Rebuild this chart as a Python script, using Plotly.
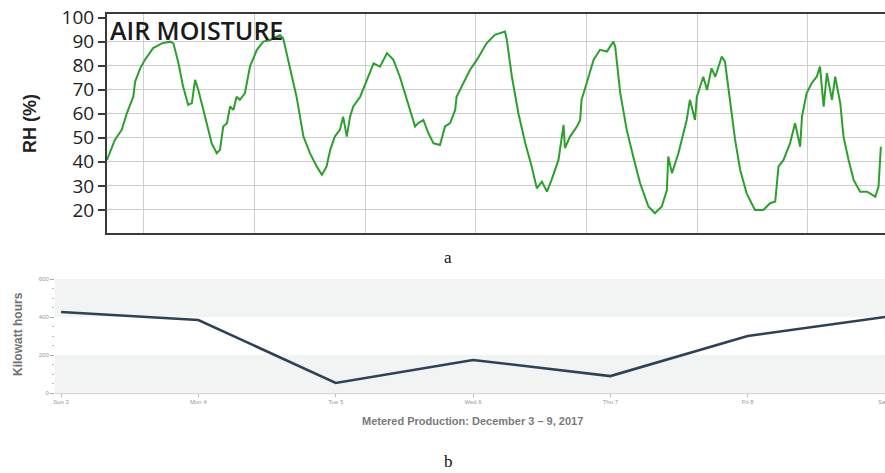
import plotly.graph_objects as go

# ---- Panel a: air moisture (RH %) ----
rh_hours = [0.0, 1.7, 3.2, 4.3, 5.7, 6.1, 7.2, 8.2, 10.0, 11.9, 13.7, 14.4, 15.5, 16.5, 17.6, 18.4,
            19.1, 19.8, 20.9, 22.0, 22.7, 23.8, 24.5, 25.2, 26.0, 26.7, 27.4, 28.1, 28.8, 29.9, 31.0,
            32.5, 33.9, 35.4, 37.5, 38.2, 40.1, 41.1, 42.6, 44.0, 45.5, 46.6, 47.6, 48.4, 49.4, 50.5,
            51.2, 52.0, 52.7, 53.4, 54.9, 56.3, 57.8, 59.2, 60.7, 62.1, 63.5, 64.6, 65.7, 66.8, 67.5,
            68.6, 69.7, 70.8, 72.2, 73.3, 74.4, 75.5, 75.8, 77.3, 78.7, 80.2, 82.3, 84.1, 86.3, 86.7,
            87.8, 89.2, 90.7, 92.1, 93.2, 94.3, 95.4, 96.4, 97.9, 99.0, 99.3, 100.4, 101.9, 102.6,
            102.9, 104.0, 105.5, 106.9, 108.4, 109.8, 110.2, 111.3, 112.7, 114.1, 115.6, 117.4, 118.8,
            120.3, 121.4, 121.7, 122.5, 123.9, 125.7, 126.4, 127.5, 127.9, 129.3, 130.1, 131.1, 131.9,
            133.3, 134.0, 135.1, 136.2, 137.3, 138.7, 140.5, 142.3, 143.8, 144.9, 145.6, 146.7, 148.1,
            149.2, 150.3, 150.7, 151.7, 152.8, 153.9, 154.6, 155.4, 156.1, 157.2, 157.9, 159.0, 159.7,
            160.8, 161.9, 163.3, 164.8, 166.6, 167.3, 167.8]
rh_values = [40.8, 49.1, 53.3, 60.2, 67.1, 73.4, 78.9, 82.4, 87.3, 89.3, 90.0, 89.3, 81.0, 71.3, 63.7, 64.4,
             74.1, 69.9, 61.6, 53.3, 47.7, 43.6, 45.0, 54.7, 56.1, 63.0, 61.6, 67.1, 65.8, 68.5, 79.6,
             86.6, 90.0, 90.7, 92.8, 91.4, 75.4, 67.1, 50.5, 43.6, 38.0, 34.6, 38.0, 45.0, 50.5, 53.3,
             58.8, 50.5, 58.8, 63.0, 67.1, 74.1, 81.0, 79.6, 85.2, 82.4, 75.4, 68.5, 61.6, 54.7, 56.1,
             57.4, 51.9, 47.7, 47.0, 54.7, 56.1, 61.6, 67.1, 72.7, 78.2, 82.4, 89.3, 92.8, 94.2, 90.7,
             75.4, 60.2, 47.7, 38.0, 29.0, 31.8, 27.6, 32.5, 40.8, 55.4, 45.7, 50.5, 54.7, 57.4,
             65.8, 72.7, 82.4, 86.6, 85.9, 90.0, 87.9, 68.5, 53.3, 42.2, 31.1, 21.4, 18.6,
             21.4, 28.3, 42.2, 35.3, 43.6, 57.4, 65.8, 57.4, 67.1, 75.4, 69.9, 78.9, 75.4,
             83.8, 81.7, 64.4, 49.1, 36.6, 26.9, 20.0, 20.0, 22.8, 23.5, 38.0, 40.8, 47.7,
             56.1, 46.3, 58.8, 68.5, 72.7, 75.4, 79.6, 63.0, 76.9, 65.8, 75.4, 64.4, 50.5,
             40.8, 32.5, 27.6, 27.6, 25.5, 29.7, 46.3]
rh_ticks = [20, 30, 40, 50, 60, 70, 80, 90, 100]
rh_grid = [20, 30, 40, 50, 60, 70, 80, 90]
day_grid_hours = [8, 32, 56, 80, 104, 128, 152]

# ---- Panel b: metered production ----
days = ["Sun 3", "Mon 4", "Tue 5", "Wed 6", "Thu 7", "Fri 8", "Sat 9"]
kwh = [426, 384, 53, 174, 89, 300, 400]
kwh_ticks = [0, 200, 400, 600]
bands = [(0, 200), (400, 600)]

W, H = 885, 473
fig = go.Figure()

fig.add_trace(go.Scatter(x=rh_hours, y=rh_values, mode="lines", xaxis="x", yaxis="y",
                         line=dict(color="#2ca02c", width=2), showlegend=False, hoverinfo="skip"))
# invisible trace to drive the horizontal grid axis
fig.add_trace(go.Scatter(x=[rh_hours[0]], y=[rh_values[0]], mode="lines", xaxis="x", yaxis="y3",
                         line=dict(width=0), showlegend=False, hoverinfo="skip"))
fig.add_trace(go.Scatter(x=days, y=kwh, mode="lines", xaxis="x2", yaxis="y2",
                         line=dict(color="#2d4157", width=2.6), showlegend=False))

top_dom = [1 - 233 / H, 1 - 14 / H]
bot_dom = [1 - 393 / H, 1 - 279 / H]
yr = [10.4, 101.5]

fig.update_layout(
    width=W, height=H, margin=dict(l=0, r=0, t=0, b=0),
    paper_bgcolor="white", plot_bgcolor="rgba(0,0,0,0)",
    font=dict(family="Liberation Sans, Arial, sans-serif"),
    xaxis=dict(domain=[107 / W, 1.0], range=[0, 168.7], tickvals=day_grid_hours,
               showticklabels=False, showgrid=True, gridcolor="#cfcfcf", gridwidth=1,
               showline=True, linecolor="#3a3a3a", linewidth=2, mirror=True, zeroline=False,
               ticks="", automargin=False),
    yaxis=dict(domain=top_dom, range=yr, tickvals=rh_ticks, showgrid=False,
               showline=True, linecolor="#3a3a3a", linewidth=2, mirror=True, zeroline=False,
               ticks="outside", ticklen=7, tickwidth=1.5, tickcolor="#3a3a3a",
               tickfont=dict(family="Open Sans, sans-serif", size=19, color="#222"),
               automargin=False),
    yaxis3=dict(overlaying="y", range=yr, tickvals=rh_grid, showticklabels=False,
                showgrid=True, gridcolor="#cfcfcf", gridwidth=1, zeroline=False, showline=False,
                ticks="", automargin=False),
    xaxis2=dict(domain=[55 / W, 1.0], range=[-0.044, 6.0], anchor="y2",
                showline=True, linecolor="#d4d4d4", linewidth=1, showgrid=False,
                ticks="outside", ticklen=3, tickcolor="#bbb",
                tickfont=dict(size=6, color="#999"), automargin=False),
    yaxis2=dict(domain=bot_dom, range=[0, 600], anchor="x2", tickvals=kwh_ticks,
                showgrid=False, zeroline=False, showline=False,
                ticks="outside", ticklen=4, tickcolor="#aaa",
                minor=dict(dtick=50, ticks="outside", ticklen=2, tickcolor="#bbb"),
                tickfont=dict(size=6, color="#999"), automargin=False),
)

for lo, hi in bands:
    fig.add_shape(type="rect", xref="x2 domain", yref="y2", x0=0, x1=1, y0=lo, y1=hi,
                  fillcolor="#f2f4f4", line=dict(width=0), layer="below")

def ann(text, px, py, **kw):
    d = dict(text=text, x=px / W, y=1 - py / H, xref="paper", yref="paper",
             showarrow=False)
    d.update(kw)
    fig.add_annotation(**d)

ann("AIR MOISTURE", 108, 30, xanchor="left", yanchor="middle",
    font=dict(family="Open Sans, sans-serif", size=25, color="#1a1a1a", weight=600))
ann("<b>RH (%)</b>", 30, 124, textangle=-90, xanchor="center", yanchor="middle",
    font=dict(family="Liberation Sans, Arial", size=18, color="#222"))
ann("<b>Kilowatt hours</b>", 18, 334, textangle=-90, xanchor="center", yanchor="middle",
    font=dict(family="Liberation Sans, Arial", size=12, color="#707070"))
ann("<b>Metered Production: December 3 – 9, 2017</b>", 472, 421, xanchor="center",
    yanchor="middle", font=dict(family="Liberation Sans, Arial", size=11, color="#7a7a7a"))
ann("a", 448, 257, xanchor="center", yanchor="middle",
    font=dict(family="Liberation Serif, Times New Roman", size=17, color="#111"))
ann("b", 448, 461, xanchor="center", yanchor="middle",
    font=dict(family="Liberation Serif, Times New Roman", size=17, color="#111"))

fig.write_html("out.html", config={"displayModeBar": False},
               post_script="document.body.style.margin='0';document.body.style.overflow='hidden';")
